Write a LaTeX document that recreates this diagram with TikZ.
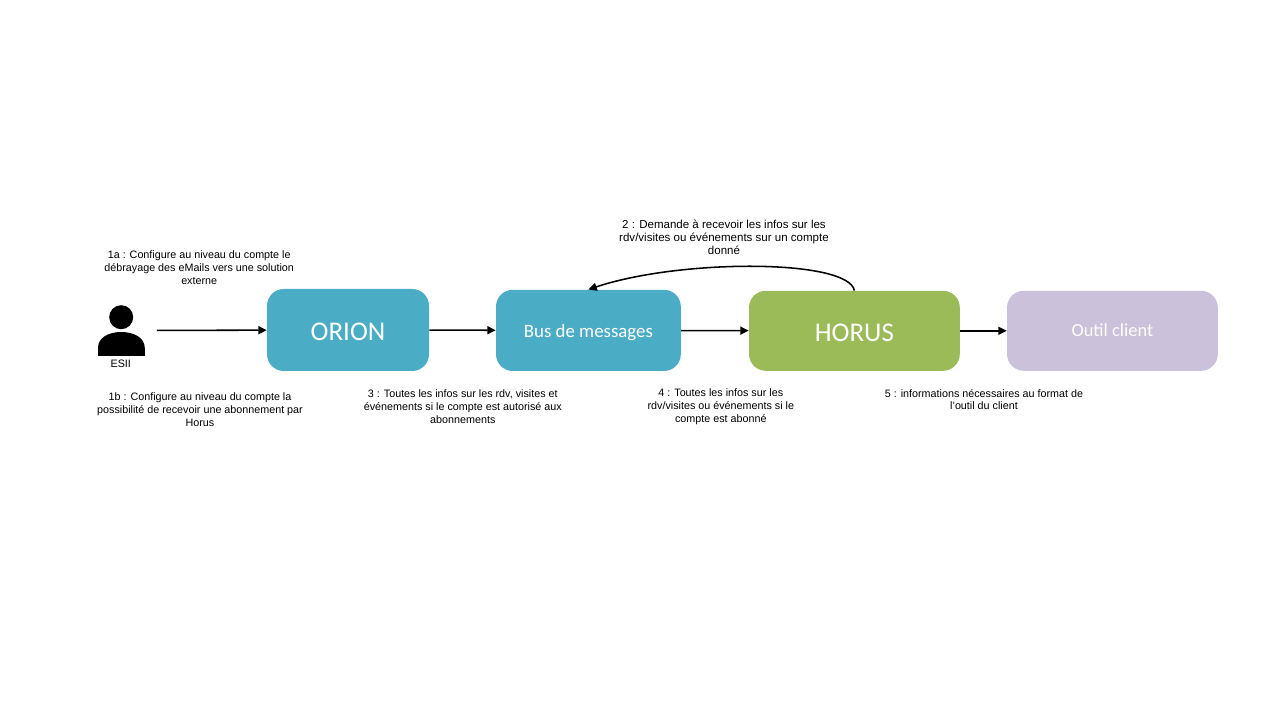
\documentclass[tikz,border=0pt]{standalone}
\usepackage{fontspec}
\setmainfont{Liberation Sans}
\newfontfamily\boxfont{Carlito}
\usetikzlibrary{arrows.meta}
\definecolor{orionblue}{HTML}{4BACC6}
\definecolor{horusgreen}{HTML}{9BBB59}
\definecolor{clientmauve}{HTML}{CCC1DA}
\tikzstyle{block}=[rounded corners=0.42cm,inner sep=0mm,minimum height=2cm,text=white,text depth=0pt,font=\boxfont]
\tikzstyle{note}=[align=center,font=\fontsize{7.65}{9.2}\selectfont,inner sep=0mm]
\tikzstyle{arrow}=[-{Triangle[length=2.1mm,width=2mm]},line width=1.1pt,black]
\begin{document}
\begin{tikzpicture}
      \useasboundingbox (0,0) rectangle (32,18);
      \node[block,fill=orionblue,minimum width=4.05cm,minimum height=2.05cm,text height=15.2pt,font=\boxfont\fontsize{19.2}{22}\selectfont] at (8.7,9.75) (orion) {ORION};
      \node[block,fill=orionblue,minimum width=4.62cm,minimum height=2.03cm,text height=9.4pt,font=\boxfont\fontsize{13.4}{16}\selectfont] at (14.71,9.74) (bus) {Bus de messages};
      \node[block,fill=horusgreen,minimum width=5.27cm,text height=15.2pt,font=\boxfont\fontsize{19.2}{22}\selectfont] at (21.36,9.73) (horus) {HORUS};
      \node[block,fill=clientmauve,minimum width=5.27cm,text height=8.2pt,font=\boxfont\fontsize{13.1}{16}\selectfont] at (27.81,9.73) (client) {Outil client};
      % person
      \node[circle,fill=black,inner sep=0mm,minimum size=0.6cm] at (3.03,10.07) (head) {};
      \fill[black] (2.45,9.1) -- (2.45,9.3) .. controls (2.45,9.55) and (2.7,9.7) .. (3.03,9.7)
        .. controls (3.36,9.7) and (3.62,9.55) .. (3.62,9.3) -- (3.62,9.1) -- cycle;
      \node[note] at (3.02,8.9) (esii) {ESII};
      \coordinate (start) at (3.92,9.74);
      \draw[arrow] (start)--(orion);
      \draw[arrow] (orion)--(bus);
      \draw[arrow] (bus)--(horus);
      \draw[arrow] (horus)--(client);
      \draw[arrow] (horus.north) .. controls (21.2,11.53) and (17,11.53) .. (bus.north);
      \node[note] at (4.98,11.3) (n1a) {1a : Configure au niveau du compte le\\débrayage des eMails vers une solution\\externe};
      \node[note] at (5,7.75) (n1b) {1b : Configure au niveau du compte la\\possibilité de recevoir une abonnement par\\Horus};
      \node[note,font=\fontsize{8.2}{9.2}\selectfont] at (18.1,12.07) (n2) {2 : Demande à recevoir les infos sur les\\rdv/visites ou événements sur un compte\\donné};
      \node[note] at (11.57,7.84) (n3) {3 : Toutes les infos sur les rdv, visites et\\événements si le compte est autorisé aux\\abonnements};
      \node[note] at (18.02,7.84) (n4) {4 : Toutes les infos sur les\\rdv/visites ou événements si le\\compte est abonné};
      \node[note] at (24.6,8.01) (n5) {5 : informations nécessaires au format de\\l'outil du client};
\end{tikzpicture}
\end{document}
